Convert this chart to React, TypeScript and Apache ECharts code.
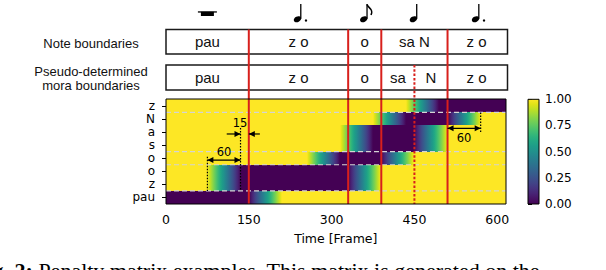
import React, { useEffect, useRef } from 'react';
import * as echarts from 'echarts';

// ---- data ----
const rowLabels = ['pau', 'z', 'o', 'o', 's', 'a', 'N', 'z'];
// per-row segments, in frames (yellow -> dark ramp, dark plateau, dark -> yellow ramp)
const rampInStart: (number | null)[] = [null, 75, 75, 255, 315, 315, 375, 435];
const darkStart = [0, 135, 135, 315, 375, 375, 435, 495];
const darkEnd = [150, 330, 330, 390, 450, 450, 510, 615];
const rampOutEnd: (number | null)[] = [210, 390, 390, 450, 510, 510, 570, null];
const frameMax = 615;

const noteBounds = [0, 150, 330, 390, 510, 615];
const noteTexts = ['pau', 'z o', 'o', 'sa N', 'z o'];
// note kinds above each note segment
const noteKinds = ['rest', 'dottedQuarter', 'eighth', 'quarter', 'dottedQuarter'];
const moraBounds = [0, 150, 330, 390, 450, 510, 615];
const moraTexts = ['pau', 'z o', 'o', 'sa', 'N', 'z o'];
const solidBoundaries = [150, 330, 390, 510];
const pseudoBoundaries = [450];
const dashedRowBoundaries = [0.5, 2.5, 3.5, 6.5];
const xTicks = [0, 150, 300, 450, 600];

const viridis: [number, string][] = [
  [0.0, '#440154'], [0.05, '#471365'], [0.1, '#482475'], [0.15, '#463480'],
  [0.2, '#414487'], [0.25, '#3b528b'], [0.3, '#355f8d'], [0.35, '#2f6c8e'],
  [0.4, '#2a788e'], [0.45, '#25848e'], [0.5, '#21918c'], [0.55, '#1e9c89'],
  [0.6, '#22a884'], [0.65, '#2fb47c'], [0.7, '#44bf70'], [0.75, '#5ec962'],
  [0.8, '#7ad151'], [0.85, '#9bd93c'], [0.9, '#bddf26'], [0.95, '#dfe318'],
  [1.0, '#fde725'],
];

const RED = '#d8201c';
const TICK_FONT = 'DejaVu Sans';
const SANS = 'Liberation Sans';

export default function App() {
  const ref = useRef<HTMLDivElement>(null);
  useEffect(() => {
    const chart = echarts.init(ref.current!, null, { renderer: 'svg' });

    const stopsDown = viridis.map(([v, c]) => ({ offset: 1 - v, color: c })).reverse();
    const stopsUp = viridis.map(([v, c]) => ({ offset: v, color: c }));

    const option: any = {
      animation: false,
      grid: [
        { left: 166, top: 99.3, width: 339.5, height: 104.7 },
        { left: 528, top: 99.3, width: 11, height: 104.7 },
      ],
      xAxis: [
        {
          type: 'value', gridIndex: 0, min: 0, max: frameMax,
          axisLine: { show: false },
          splitLine: { show: false },
          axisTick: { show: true, customValues: xTicks, length: 4, lineStyle: { color: '#000', width: 1 } },
          axisLabel: { customValues: xTicks, margin: 9, fontSize: 12.5, fontFamily: TICK_FONT, color: '#000' },
          name: 'Time [Frame]', nameLocation: 'middle', nameGap: 28,
          nameTextStyle: { fontSize: 12.5, fontFamily: TICK_FONT, color: '#000' },
        },
        { type: 'value', gridIndex: 1, min: 0, max: 1, show: false },
      ],
      yAxis: [
        { type: 'value', gridIndex: 0, min: -0.5, max: 7.5, show: false },
        {
          type: 'category', gridIndex: 0, data: rowLabels, position: 'left',
          axisLine: { show: false },
          axisTick: { show: true, alignWithLabel: true, length: 4, lineStyle: { color: '#000' } },
          axisLabel: { margin: 11, fontSize: 12, fontFamily: TICK_FONT, color: '#000', interval: 0 },
          splitLine: { show: false },
        },
        {
          type: 'value', gridIndex: 1, min: 0, max: 1, interval: 0.25, position: 'right',
          axisLine: { show: false },
          splitLine: { show: false },
          axisTick: { show: true, length: 4, lineStyle: { color: '#000' } },
          axisLabel: { margin: 6, fontSize: 12, fontFamily: TICK_FONT, color: '#000', formatter: (v: number) => v.toFixed(2) },
        },
      ],
      series: [
        {
          type: 'custom', xAxisIndex: 0, yAxisIndex: 0,
          data: rowLabels.map((_, i) => [i]),
          renderItem: (params: any, api: any) => {
            const i = api.value(0);
            // snap edges to whole pixels so that neighbouring cells leave no seams
            const yTop = Math.round(api.coord([0, i + 0.5])[1]);
            const yBot = Math.round(api.coord([0, i - 0.5])[1]);
            const h = yBot - yTop;
            const X = (f: number) => Math.round(api.coord([f, 0])[0]);
            const xEnd = X(frameMax);
            const children: any[] = [];
            children.push({ type: 'rect', shape: { x: X(0), y: yTop, width: xEnd - X(0), height: h }, style: { fill: '#fde725' } });
            const ri = rampInStart[i];
            if (ri != null) {
              children.push({
                type: 'rect', shape: { x: X(ri), y: yTop, width: X(darkStart[i]) - X(ri), height: h },
                style: { fill: new echarts.graphic.LinearGradient(0, 0, 1, 0, stopsDown) },
              });
            }
            children.push({ type: 'rect', shape: { x: X(darkStart[i]), y: yTop, width: X(darkEnd[i]) - X(darkStart[i]), height: h }, style: { fill: '#440154' } });
            const ro = rampOutEnd[i];
            if (ro != null) {
              children.push({
                type: 'rect', shape: { x: X(darkEnd[i]), y: yTop, width: X(ro) - X(darkEnd[i]), height: h },
                style: { fill: new echarts.graphic.LinearGradient(0, 0, 1, 0, stopsUp) },
              });
            }
            return { type: 'group', children };
          },
        },
        {
          type: 'custom', xAxisIndex: 1, yAxisIndex: 2,
          data: [[0, 0]],
          renderItem: (params: any, api: any) => {
            const p1 = api.coord([0, 1]);
            const p0 = api.coord([1, 0]);
            return {
              type: 'rect',
              shape: { x: p1[0], y: p1[1], width: p0[0] - p1[0], height: p0[1] - p1[1] },
              style: {
                fill: new echarts.graphic.LinearGradient(0, 0, 0, 1, viridis.map(([v, c]) => ({ offset: 1 - v, color: c })).reverse()),
                stroke: '#000', lineWidth: 1,
              },
            };
          },
        },
      ],
    };
    chart.setOption(option);

    const px = (x: number, y: number) => chart.convertToPixel({ xAxisIndex: 0, yAxisIndex: 0 }, [x, y]) as number[];
    const PX = (x: number) => px(x, 0)[0];
    const PY = (y: number) => px(0, y)[1];
    const plotTop = Math.round(PY(7.5));
    const plotBot = Math.round(PY(-0.5));
    const left = Math.round(PX(0));
    const right = Math.round(PX(frameMax));

    const g: any[] = [];
    const box1 = [29.5, 54];
    const box2 = [65, 90];
    [box1, box2].forEach(([t, b]) => {
      g.push({ type: 'rect', z: 100, shape: { x: left, y: t, width: right + 1.5 - left, height: b - t }, style: { fill: '#fff', stroke: '#1a1a1a', lineWidth: 1.5 } });
    });
    noteTexts.forEach((t, k) => {
      g.push({ type: 'text', z: 115, x: (PX(noteBounds[k]) + PX(noteBounds[k + 1])) / 2, y: (box1[0] + box1[1]) / 2,
        style: { text: t, fontSize: 15, fontFamily: SANS, fill: '#111', align: 'center', verticalAlign: 'middle' } });
    });
    moraTexts.forEach((t, k) => {
      g.push({ type: 'text', z: 115, x: (PX(moraBounds[k]) + PX(moraBounds[k + 1])) / 2, y: (box2[0] + box2[1]) / 2,
        style: { text: t, fontSize: 15, fontFamily: SANS, fill: '#111', align: 'center', verticalAlign: 'middle' } });
    });
    const lbl = (t: string, y: number) => g.push({ type: 'text', z: 115, x: 91, y, style: { text: t, fontSize: 13, fontFamily: SANS, fill: '#111', align: 'center', verticalAlign: 'middle' } });
    lbl('Note boundaries', 43.3);
    lbl('Pseudo-determined', 71.5);
    lbl('mora boundaries', 85.5);

    // musical note symbols, drawn as shapes
    noteKinds.forEach((kind, k) => {
      const cx = (PX(noteBounds[k]) + PX(noteBounds[k + 1])) / 2;
      if (kind === 'rest') {
        g.push({ type: 'rect', z: 115, shape: { x: cx - 9.5, y: 11.3, width: 19, height: 1.3 }, style: { fill: '#000' } });
        g.push({ type: 'rect', z: 115, shape: { x: cx - 6.5, y: 11.8, width: 13, height: 4.2 }, style: { fill: '#000' } });
        return;
      }
      const hx = cx - 1;
      const hy = 19.3;
      g.push({ type: 'ellipse', z: 115, x: hx, y: hy, rotation: 0.45, shape: { cx: 0, cy: 0, rx: 3.9, ry: 2.8 }, style: { fill: '#000' } });
      const sx = hx + 3.3;
      g.push({ type: 'line', z: 115, shape: { x1: sx, y1: 4, x2: sx, y2: hy - 0.5 }, style: { stroke: '#000', lineWidth: 1.3 } });
      if (kind === 'dottedQuarter') {
        g.push({ type: 'circle', z: 115, shape: { cx: hx + 8.5, cy: hy + 1.2, r: 1.2 }, style: { fill: '#000' } });
      }
      if (kind === 'eighth') {
        g.push({ type: 'bezierCurve', z: 115, shape: { x1: sx, y1: 4.5, cpx1: sx + 1, cpy1: 8, cpx2: sx + 7, cpy2: 9, x2: sx + 4, y2: 15 }, style: { stroke: '#000', lineWidth: 1.6, fill: 'none' } });
      }
    });

    dashedRowBoundaries.forEach((yb) => {
      g.push({ type: 'line', z: 105, shape: { x1: left, y1: PY(yb), x2: right, y2: PY(yb) }, style: { stroke: '#d4d4d4', lineWidth: 1.2, lineDash: [5, 3] } });
    });
    solidBoundaries.forEach((f) => {
      g.push({ type: 'line', z: 110, shape: { x1: PX(f), y1: box1[0], x2: PX(f), y2: plotBot }, style: { stroke: RED, lineWidth: 2 } });
    });
    pseudoBoundaries.forEach((f) => {
      g.push({ type: 'line', z: 110, shape: { x1: PX(f), y1: box2[0], x2: PX(f), y2: plotBot }, style: { stroke: RED, lineWidth: 2, lineDash: [2.5, 1.8] } });
    });

    const vdot = (f: number, y1: number, y2: number) =>
      g.push({ type: 'line', z: 120, shape: { x1: PX(f), y1: PY(y1), x2: PX(f), y2: PY(y2) }, style: { stroke: '#000', lineWidth: 1.2, lineDash: [1.5, 1.5] } });
    const head = (x: number, y: number, dir: number) =>
      g.push({ type: 'polygon', z: 121, shape: { points: [[x, y], [x - dir * 6, y - 3], [x - dir * 6, y + 3]] }, style: { fill: '#000' } });
    const hline = (x1: number, x2: number, y: number) =>
      g.push({ type: 'line', z: 120, shape: { x1, y1: y, x2, y2: y }, style: { stroke: '#000', lineWidth: 1.2 } });
    const atext = (t: string, f: number, y: number) =>
      g.push({ type: 'text', z: 121, x: PX(f), y: PY(y), style: { text: t, fontSize: 11.5, fontFamily: TICK_FONT, fill: '#000', align: 'center', verticalAlign: 'middle' } });

    vdot(75, 3.11, 0.5);
    vdot(135, 5.3, 0.5);
    {
      const y = PY(2.86);
      hline(PX(75), PX(135), y);
      head(PX(75), y, -1);
      head(PX(135), y, 1);
      atext('60', 105, 3.45);
    }
    {
      const y = PY(4.85);
      hline(PX(110), PX(135), y);
      head(PX(135), y, 1);
      hline(PX(150), PX(170), y);
      head(PX(150), y, -1);
      atext('15', 134, 5.71);
    }
    vdot(570, 6.5, 4.92);
    {
      const y = PY(5.28);
      hline(PX(510), PX(570), y);
      head(PX(510), y, -1);
      head(PX(570), y, 1);
      atext('60', 540, 4.52);
    }
    g.push({ type: 'rect', z: 125, shape: { x: left, y: plotTop, width: right - left, height: plotBot - plotTop }, style: { fill: 'none', stroke: '#000', lineWidth: 1 } });
    // caption, cut off by the bottom edge as in the reference
    g.push({
      type: 'text', z: 115, x: -27, y: 270,
      style: {
        text: '{b|Fig. 2:} Penalty matrix examples. This matrix is generated on the',
        rich: { b: { fontWeight: 'bold', fontSize: 22, fontFamily: 'Liberation Serif', fill: '#000' } },
        fontSize: 22, fontFamily: 'Liberation Serif', fill: '#000', verticalAlign: 'middle',
      },
    });

    chart.setOption({ graphic: g });
    return () => chart.dispose();
  }, []);
  return <div ref={ref} style={{ position: 'absolute', left: 0, top: 0, width: 606, height: 270 }} />;
}
